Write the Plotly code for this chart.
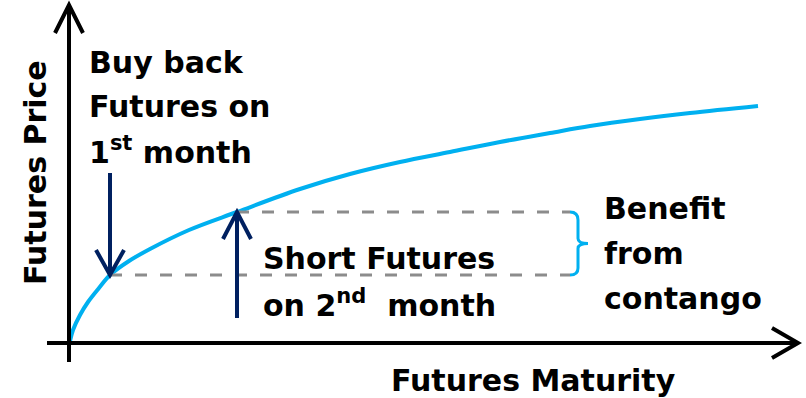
import plotly.graph_objects as go

# Curve (maturity vs futures price, arbitrary units)
maturity = [1, 4, 11, 19, 30, 41, 60, 81, 120, 168, 231, 281, 331, 381, 431, 481, 521, 571, 621, 689]
price = [2, 13, 28, 41, 55, 68, 82, 94, 113, 131, 154, 169, 181, 191, 201, 210, 217, 224, 230, 237]

month1_idx = 5   # 1st month contract
month2_idx = 9   # 2nd month contract

labels_buy = ["Buy back", "Futures on", "1<sup>st</sup> month"]
labels_short = ["Short Futures", "on 2<sup>nd</sup>\u00a0 month"]
labels_benefit = ["Benefit", "from", "contango"]
x_title = "Futures Maturity"
y_title = "Futures Price"

CURVE = "#00b0f0"
NAVY = "#002060"
GRAY = "#8c8c8c"
FONT = dict(family="DejaVu Sans", size=30, color="black")

fig = go.Figure()
fig.add_trace(go.Scatter(x=maturity, y=price, mode="lines",
                         line=dict(color=CURVE, width=4, shape="spline", smoothing=1.0),
                         hoverinfo="skip", showlegend=False))

x1, y1 = maturity[month1_idx], price[month1_idx]
x2, y2 = maturity[month2_idx], price[month2_idx]
brace_x = 501

shapes = []
# axes
shapes.append(dict(type="line", x0=0, y0=-19, x1=0, y1=337, line=dict(color="black", width=4)))
shapes.append(dict(type="path", path="M -14,310 L 0,338 L 14,310", line=dict(color="black", width=4)))
shapes.append(dict(type="line", x0=-22, y0=0, x1=727, y1=0, line=dict(color="black", width=4)))
shapes.append(dict(type="path", path="M 703,15 L 729,0 L 703,-15", line=dict(color="black", width=4)))
# dashed levels
shapes.append(dict(type="line", x0=x1, y0=y1, x1=brace_x, y1=y1, line=dict(color=GRAY, width=3, dash="12px,13px")))
shapes.append(dict(type="line", x0=x2, y0=y2, x1=brace_x, y1=y2, line=dict(color=GRAY, width=3, dash="12px,13px")))
# brace
bx = brace_x
mid = (y1 + y2) / 2
shapes.append(dict(type="path",
                   path=f"M {bx},{y2} Q {bx+8},{y2} {bx+8},{y2-8} L {bx+8},{mid+5} Q {bx+8},{mid} {bx+18},{mid} "
                        f"Q {bx+8},{mid} {bx+8},{mid-5} L {bx+8},{y1+7} Q {bx+8},{y1} {bx},{y1}",
                   line=dict(color=CURVE, width=3)))
# down arrow (buy back 1st month)
shapes.append(dict(type="line", x0=x1, y0=170, x1=x1, y1=y1 + 2, line=dict(color=NAVY, width=4)))
shapes.append(dict(type="path", path=f"M {x1-14},{y1+25} L {x1},{y1} L {x1+14},{y1+25}", line=dict(color=NAVY, width=4)))
# up arrow (short 2nd month)
shapes.append(dict(type="line", x0=x2, y0=25, x1=x2, y1=y2 - 2, line=dict(color=NAVY, width=4)))
shapes.append(dict(type="path", path=f"M {x2-14},{y2-27} L {x2},{y2} L {x2+14},{y2-27}", line=dict(color=NAVY, width=4)))

annotations = []
def txt(text, x, y, **kw):
    d = dict(text=f"<b>{text}</b>", x=x, y=y, xref="x", yref="y", showarrow=False,
             xanchor="left", yanchor="middle", font=FONT, borderpad=0)
    d.update(kw)
    annotations.append(d)

for i, t in enumerate(labels_buy):
    txt(t, 19, 281 - 44 * i)
for i, t in enumerate(labels_short):
    txt(t, 193, 85 - 45 * i)
for i, t in enumerate(labels_benefit):
    txt(t, 534, 135 - 45 * i)
txt(x_title, 321, -37)
txt(y_title, -34, 170, textangle=-90, xanchor="center")

fig.update_layout(
    width=806, height=398,
    margin=dict(l=0, r=0, t=0, b=0),
    paper_bgcolor="white", plot_bgcolor="white",
    xaxis=dict(range=[-69, 737], visible=False, fixedrange=True),
    yaxis=dict(range=[-55, 343], visible=False, fixedrange=True),
    shapes=shapes, annotations=annotations,
)
fig.write_html("out.html")
